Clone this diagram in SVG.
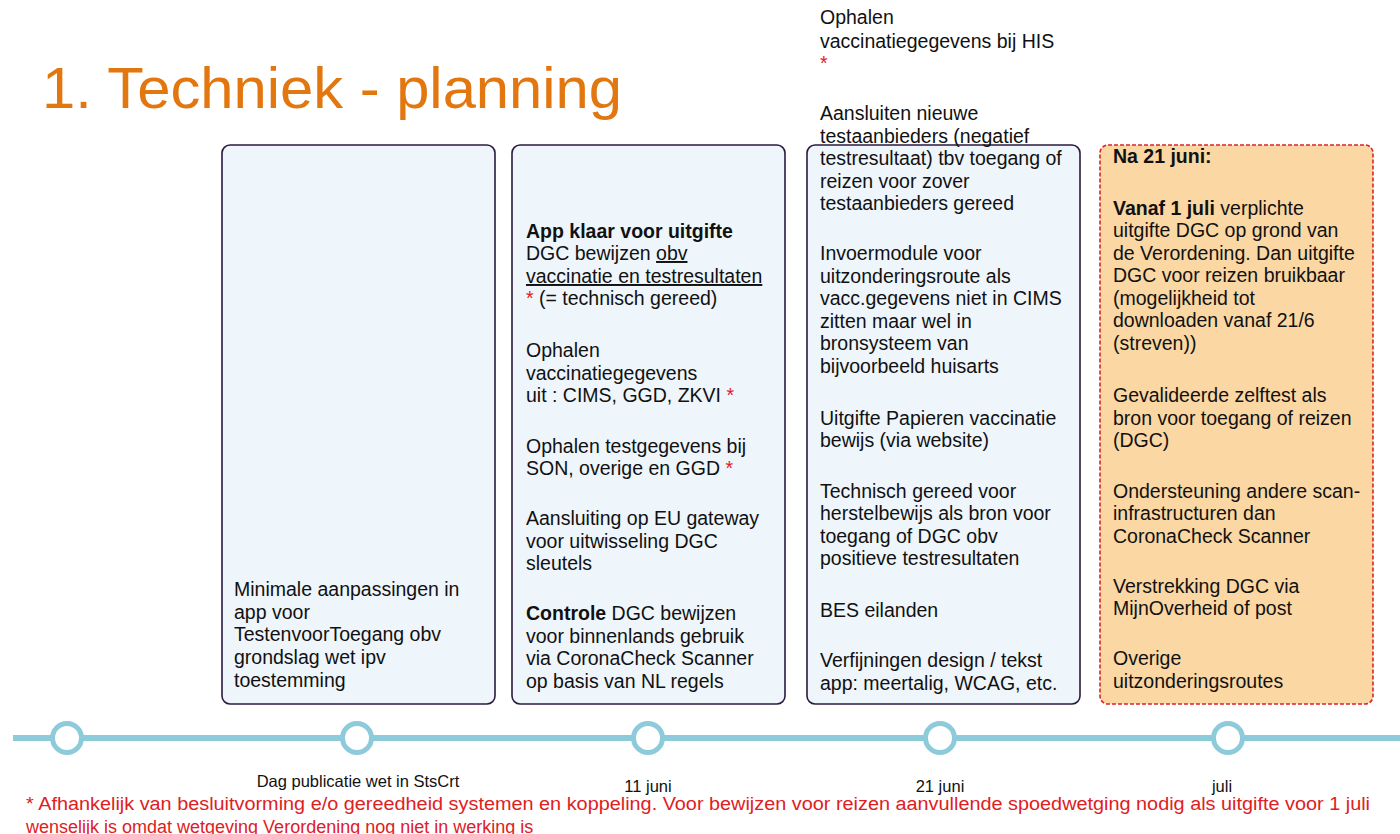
<svg xmlns="http://www.w3.org/2000/svg" width="1400" height="834" viewBox="0 0 1400 834">
<style>
  .t{font-family:"Liberation Sans",Arial,sans-serif;font-size:19.5px;fill:#111}
  .b{font-weight:bold}
  .r{fill:#E0201E}
  .u{text-decoration:underline}
  .box{fill:#EEF5FB;stroke:#2B1B40;stroke-width:1.6}
  .obox{fill:#FAD7A3;stroke:#D8262A;stroke-width:1.6;stroke-dasharray:4 2}
  .tl{fill:none;stroke:#8DCBDB;stroke-width:6}
  .dot{fill:#fff;stroke:#8DCBDB;stroke-width:5}
  .lbl{font-family:"Liberation Sans",Arial,sans-serif;font-size:16.5px;fill:#111;text-anchor:middle}
  .fn{font-family:"Liberation Sans",Arial,sans-serif;font-size:18px;fill:#E0201E}
</style>
<rect width="1400" height="834" fill="#fff"/>
<text x="42" y="108" font-family="Liberation Sans, Arial, sans-serif" font-size="58" fill="#E2760F" textLength="580" lengthAdjust="spacingAndGlyphs">1. Techniek - planning</text>

<g id="box1">
  <rect class="box" x="222" y="145" width="273" height="559" rx="8"/>
  <text class="t" x="234" y="596">Minimale aanpassingen in</text>
  <text class="t" x="234" y="619">app voor</text>
  <text class="t" x="234" y="641">TestenvoorToegang obv</text>
  <text class="t" x="234" y="664">grondslag wet ipv</text>
  <text class="t" x="234" y="687">toestemming</text>
</g>

<g id="box2">
  <rect class="box" x="512" y="145" width="273" height="559" rx="8"/>
  <text class="t b" x="526" y="238">App klaar voor uitgifte</text>
  <text class="t" x="526" y="260">DGC bewijzen <tspan class="u">obv </tspan></text>
  <text class="t u" x="526" y="283">vaccinatie en testresultaten</text>
  <text class="t" x="526" y="305"><tspan class="r">*</tspan> (= technisch gereed)</text>
  <text class="t" x="526" y="357">Ophalen</text>
  <text class="t" x="526" y="380">vaccinatiegegevens</text>
  <text class="t" x="526" y="402">uit : CIMS, GGD, ZKVI <tspan class="r">*</tspan></text>
  <text class="t" x="526" y="453">Ophalen testgegevens bij</text>
  <text class="t" x="526" y="475">SON, overige en GGD <tspan class="r">*</tspan></text>
  <text class="t" x="526" y="525">Aansluiting op EU gateway</text>
  <text class="t" x="526" y="548">voor uitwisseling DGC</text>
  <text class="t" x="526" y="570">sleutels</text>
  <text class="t" x="526" y="620"><tspan class="b">Controle</tspan> DGC bewijzen</text>
  <text class="t" x="526" y="643">voor binnenlands gebruik</text>
  <text class="t" x="526" y="665">via CoronaCheck Scanner</text>
  <text class="t" x="526" y="688">op basis van NL regels</text>
</g>

<g id="box3">
  <rect class="box" x="807" y="145" width="273" height="559" rx="8"/>
  <text class="t" x="820" y="24">Ophalen</text>
  <text class="t" x="820" y="48">vaccinatiegegevens bij HIS</text>
  <text class="t r" x="820" y="70">*</text>
  <text class="t" x="820" y="120">Aansluiten nieuwe</text>
  <text class="t" x="820" y="143">testaanbieders (negatief</text>
  <text class="t" x="820" y="165">testresultaat) tbv toegang of</text>
  <text class="t" x="820" y="188">reizen voor zover</text>
  <text class="t" x="820" y="210">testaanbieders gereed</text>
  <text class="t" x="820" y="260">Invoermodule voor</text>
  <text class="t" x="820" y="283">uitzonderingsroute als</text>
  <text class="t" x="820" y="305">vacc.gegevens niet in CIMS</text>
  <text class="t" x="820" y="328">zitten maar wel in</text>
  <text class="t" x="820" y="350">bronsysteem van</text>
  <text class="t" x="820" y="373">bijvoorbeeld huisarts</text>
  <text class="t" x="820" y="425">Uitgifte Papieren vaccinatie</text>
  <text class="t" x="820" y="447">bewijs (via website)</text>
  <text class="t" x="820" y="498">Technisch gereed voor</text>
  <text class="t" x="820" y="520">herstelbewijs als bron voor</text>
  <text class="t" x="820" y="543">toegang of DGC obv</text>
  <text class="t" x="820" y="565">positieve testresultaten</text>
  <text class="t" x="820" y="617">BES eilanden</text>
  <text class="t" x="820" y="667">Verfijningen design / tekst</text>
  <text class="t" x="820" y="690">app: meertalig, WCAG, etc.</text>
</g>

<g id="box4">
  <rect class="obox" x="1100" y="145" width="273" height="559" rx="8"/>
  <text class="t b" x="1113" y="163">Na 21 juni:</text>
  <text class="t" x="1113" y="215"><tspan class="b">Vanaf 1 juli</tspan> verplichte</text>
  <text class="t" x="1113" y="237">uitgifte DGC op grond van</text>
  <text class="t" x="1113" y="260">de Verordening. Dan uitgifte</text>
  <text class="t" x="1113" y="282">DGC voor reizen bruikbaar</text>
  <text class="t" x="1113" y="305">(mogelijkheid tot</text>
  <text class="t" x="1113" y="327">downloaden vanaf 21/6</text>
  <text class="t" x="1113" y="350">(streven))</text>
  <text class="t" x="1113" y="402">Gevalideerde zelftest als</text>
  <text class="t" x="1113" y="425">bron voor toegang of reizen</text>
  <text class="t" x="1113" y="447">(DGC)</text>
  <text class="t" x="1113" y="498">Ondersteuning andere scan-</text>
  <text class="t" x="1113" y="520">infrastructuren dan</text>
  <text class="t" x="1113" y="543">CoronaCheck Scanner</text>
  <text class="t" x="1113" y="593">Verstrekking DGC via</text>
  <text class="t" x="1113" y="615">MijnOverheid of post</text>
  <text class="t" x="1113" y="665">Overige</text>
  <text class="t" x="1113" y="688">uitzonderingsroutes</text>
</g>

<g id="connectors">
  <line class="tl" x1="13" y1="738" x2="1400" y2="738"/>
</g>
<g id="timeline-points">
  <circle class="dot" cx="67" cy="738" r="14.5"/>
  <circle class="dot" cx="357" cy="738" r="14.5"/>
  <circle class="dot" cx="648" cy="738" r="14.5"/>
  <circle class="dot" cx="940" cy="738" r="14.5"/>
  <circle class="dot" cx="1228" cy="738" r="14.5"/>
</g>
<g id="labels">
  <text class="lbl" x="358" y="787">Dag publicatie wet in StsCrt</text>
  <text class="lbl" x="648" y="792">11 juni</text>
  <text class="lbl" x="940" y="792">21 juni</text>
  <text class="lbl" x="1222" y="792">juli</text>
</g>
<g id="footnote">
  <text class="fn" x="26" y="810" textLength="1344" lengthAdjust="spacingAndGlyphs">* Afhankelijk van besluitvorming e/o gereedheid systemen en koppeling. Voor bewijzen voor reizen aanvullende spoedwetging nodig als uitgifte voor 1 juli</text>
  <text class="fn" x="26" y="833">wenselijk is omdat wetgeving Verordening nog niet in werking is</text>
</g>
</svg>
